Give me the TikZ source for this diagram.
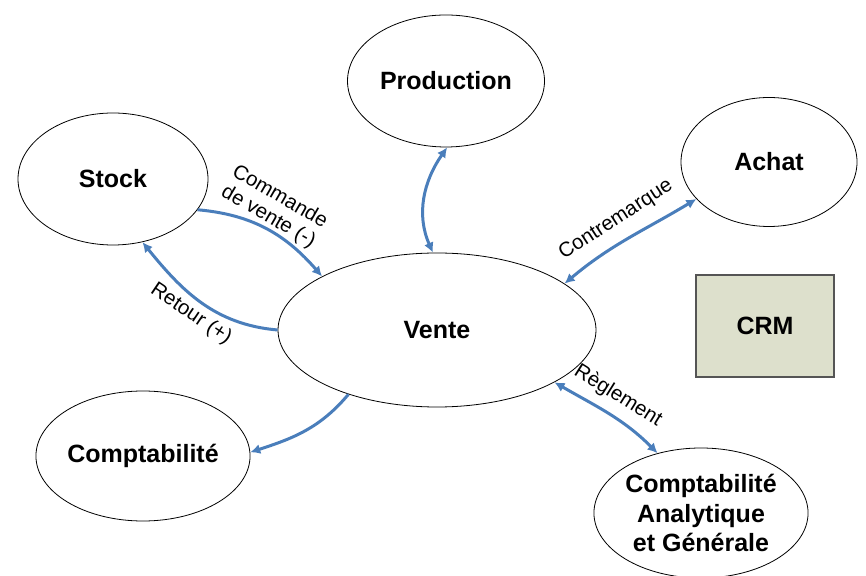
\documentclass[tikz,border=0pt]{standalone}
\usepackage{fontspec}
\setmainfont{Liberation Sans}
\usetikzlibrary{
arrows.meta,
shapes.geometric,
positioning
}
\definecolor{pfeilblau}{RGB}{74,126,187}
\definecolor{crmgruen}{RGB}{221,224,204}
\definecolor{crmrand}{RGB}{85,85,85}
\tikzset{
block_ellipse/.style={ellipse, draw=black, line width=0.8pt, fill=white, align=center, inner sep=0pt, font=\fontsize{25}{29.5}\selectfont\bfseries}
}

\begin{document}
\begin{tikzpicture}
[x=1pt, y=1pt,
block_crm/.style ={ rectangle, draw=crmrand, line width=1.2pt, fill=crmgruen, minimum width=138pt, minimum height=102pt, inner sep=0pt, font=\fontsize{25}{29.5}\selectfont\bfseries},
line_link/.style ={draw=pfeilblau, line width=3pt, -{Latex[length=10pt,width=10pt]}},
line_both/.style ={line_link, {Latex[length=10pt,width=10pt]}-{Latex[length=10pt,width=10pt]}},
label_text/.style ={align=center, inner sep=0pt, font=\fontsize{20.5}{23}\selectfont}
]
\useasboundingbox (0,0) rectangle (866,575);

%%%Bulles%%%
\node [block_ellipse, minimum width=197pt, minimum height=132pt] (prod) at (446,494) {Production};
\node [block_ellipse, minimum width=190pt, minimum height=132pt] (stock) at (113,396) {Stock};
\node [block_ellipse, minimum width=176pt, minimum height=129pt] (achat) at (769,413) {Achat};
\node [block_ellipse, minimum width=318pt, minimum height=154pt] (vente) at (437,245) {Vente};
\node [block_ellipse, minimum width=197pt, minimum height=130pt] (compta) at (143,119) {Comptabilit\'e};
\node [block_ellipse, minimum width=197pt, minimum height=130pt] (analyt) at (701,62) {Comptabilit\'e\\Analytique\\et G\'en\'erale};
\node [block_crm] (crm) at (765,249) {CRM};

%%%Pfeile%%%
\draw [line_both] (prod.-89) to[out=-125, in=114] (vente.93);
\draw [line_link] (stock.-20) to[out=-5, in=131] (vente.155);
\draw [line_link] (vente.180) to[out=175, in=-51] (stock.-65);
\draw [line_both] (vente.20) to[out=40, in=-149] (achat.-153);
\draw [line_both] (vente.-24) to[out=-30, in=135] (analyt.126);
\draw [line_link] (vente.-144) to[out=-130, in=18] (compta.2);

%%%Beschriftung%%%
\node [label_text, rotate=-30] (l_commande) at (274,368) {Commande\\de vente (-)};
\node [label_text, rotate=-34] (l_retour) at (191,261) {Retour (+)};
\node [label_text, rotate=33] (l_contremarque) at (616,355) {Contremarque};
\node [label_text, rotate=-32] (l_reglement) at (618,179) {R\`eglement};

\end{tikzpicture}
\end{document}
